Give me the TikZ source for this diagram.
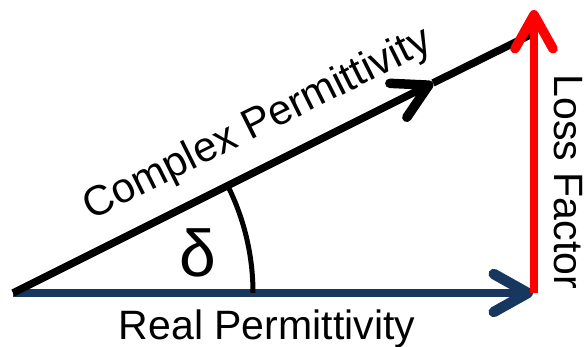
\documentclass[tikz,border=0pt]{standalone}
\usepackage{fontspec}
\setmainfont{Liberation Sans}
\usetikzlibrary{arrows.meta}
\definecolor{navy}{HTML}{17375E}
\tikzset{
  chev/.style={-{Straight Barb[length=34pt,width=38pt,line width=2pt 1,round]}},
  lbl/.style={font=\fontsize{41}{48}\selectfont, inner sep=0pt},
}

\begin{document}
\begin{tikzpicture}[x=1pt,y=1pt]
\useasboundingbox (0,0) rectangle (587,347);
\coordinate (O) at (13,54);
\coordinate (re) at (533,54);
\coordinate (lfbase) at (534,54);
\coordinate (lf) at (534,337);
\coordinate (mid) at (433,264);
\coordinate (cp) at (534,314);
\coordinate (arcstart) at (253,54);
% real part
\draw[navy, line width=8.5pt, chev] (O) -- (re);
% complex permittivity
\draw[line width=7.5pt] (mid) -- (cp);
\draw[line width=7.5pt, chev] (O) -- (mid);
% angle
\draw[line width=5pt] (arcstart) arc[start angle=0, end angle=26.5, radius=240];
% loss factor
\draw[red, line width=7.5pt, chev] (lfbase) -- (lf);
% labels
\node[lbl, anchor=base] (real) at (267,7) {Real Permittivity};
\node[lbl, rotate=-90] (loss) at (568,165) {Loss Factor};
\node[lbl, font=\fontsize{42}{48}\selectfont, rotate=26.5] (cplx) at (258,222) {Complex Permittivity};
\node[font=\fontsize{66}{70}\selectfont] (delta) at (198,94) {δ};
\end{tikzpicture}
\end{document}
